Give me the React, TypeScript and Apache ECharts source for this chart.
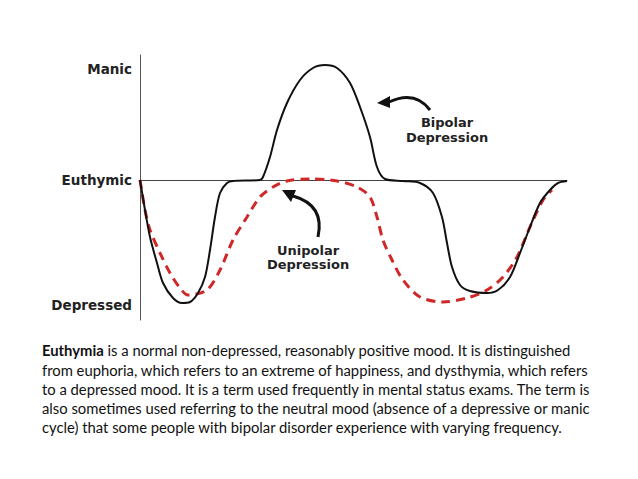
import React, { useEffect, useRef } from "react";
import * as echarts from "echarts";

// x: time (arbitrary units), y: mood (Euthymic = 0)
const bipolarX = [0, 5, 10, 17, 23, 33, 42, 50, 58, 65, 70, 75, 80, 87, 93, 120, 123, 130, 137, 147, 160, 173, 185, 197, 210, 220, 230, 237, 245, 263, 280, 293, 302, 307, 312, 320, 330, 347, 358, 370, 380, 390, 400, 410, 418, 427];
const bipolarY = [0, -30, -57, -83, -103, -118, -123, -122, -113, -97, -70, -37, -13, -3, -1, 0, 3, 23, 50, 77, 100, 112, 115, 112, 97, 73, 43, 13, 1, -1, -3, -13, -37, -63, -87, -105, -111, -113, -110, -97, -73, -47, -23, -10, -3, -1];

const unipolarX = [0, 5, 10, 20, 30, 40, 48, 67, 80, 93, 107, 120, 133, 147, 170, 197, 217, 230, 237, 243, 252, 263, 280, 303, 327, 347, 363, 377, 390, 403, 412];
const unipolarY = [0, -30, -50, -73, -93, -108, -115, -110, -90, -60, -37, -17, -7, -1, 1, -1, -7, -17, -37, -60, -80, -100, -117, -122, -118, -110, -97, -77, -47, -20, -10];

const moodLevels = [111, 0, -125];
const moodNames = ["Manic", "Euthymic", "Depressed"];

const paragraph = [
  "{b|Euthymia} is a normal non-depressed, reasonably positive mood. It is distinguished",
  "from euphoria, which refers to an extreme of happiness, and dysthymia, which refers",
  "to a depressed mood. It is a term used frequently in mental status exams. The term is",
  "also sometimes used referring to the neutral mood (absence of a depressive or manic",
  "cycle) that some people with bipolar disorder experience with varying frequency.",
];

const labelFont = "DejaVu Sans";

export default function App() {
  const ref = useRef<HTMLDivElement>(null);
  useEffect(() => {
    if (!ref.current) return;
    const chart = echarts.init(ref.current, null, { renderer: "svg" });
    const pair = (xs: number[], ys: number[]) => xs.map((x, i) => [x, ys[i]]);
    const lineYs = [350, 370, 389, 408, 427];
    const arrowText = (text: string, x: number, y: number) => ({
      type: "text",
      x,
      y,
      style: { text, fill: "#222", fontFamily: labelFont, fontWeight: "bold", fontSize: 13, align: "center", verticalAlign: "middle" },
    });
    chart.setOption({
      animation: false,
      backgroundColor: "#ffffff",
      grid: { left: 140, right: 71, top: 55, bottom: 159 },
      xAxis: {
        type: "value",
        min: 0,
        max: 427,
        axisLine: { show: true, onZero: true, lineStyle: { color: "#444", width: 1 } },
        axisTick: { show: false },
        axisLabel: { show: false },
        splitLine: { show: false },
      },
      yAxis: {
        type: "value",
        min: -140,
        max: 125,
        axisLine: { show: true, lineStyle: { color: "#555", width: 1 } },
        axisTick: { show: false },
        splitLine: { show: false },
        axisLabel: {
          customValues: moodLevels,
          margin: 8,
          color: "#222",
          fontFamily: labelFont,
          fontWeight: "bold",
          fontSize: 13.5,
          formatter: (v: number) => {
            const i = moodLevels.indexOf(v);
            return i >= 0 ? moodNames[i] : "";
          },
        },
      },
      series: [
        {
          name: "Bipolar",
          type: "line",
          data: pair(bipolarX, bipolarY),
          smooth: 0.3,
          showSymbol: false,
          lineStyle: { color: "#111", width: 2 },
          z: 3,
        },
        {
          name: "Unipolar",
          type: "line",
          data: pair(unipolarX, unipolarY),
          smooth: 0.3,
          showSymbol: false,
          lineStyle: { color: "#d02828", width: 3, type: [9, 6] },
          z: 2,
        },
      ],
      graphic: [
        // Bipolar arrow
        {
          type: "bezierCurve",
          shape: { x1: 430, y1: 110, x2: 389, y2: 102, cpx1: 415, cpy1: 90 },
          style: { stroke: "#111", lineWidth: 3, fill: null },
        },
        {
          type: "polygon",
          shape: { points: [[377, 103], [390, 96], [390, 108]] },
          style: { fill: "#111" },
        },
        arrowText("Bipolar", 447, 122),
        arrowText("Depression", 447, 137),
        // Unipolar arrow
        {
          type: "bezierCurve",
          shape: { x1: 318, y1: 237, x2: 293, y2: 196, cpx1: 325, cpy1: 205 },
          style: { stroke: "#111", lineWidth: 3, fill: null },
        },
        {
          type: "polygon",
          shape: { points: [[282, 190], [296, 190], [291, 202]] },
          style: { fill: "#111" },
        },
        arrowText("Unipolar", 308, 250),
        arrowText("Depression", 308, 264),
        ...paragraph.map((line, i) => ({
          type: "text",
          x: 42,
          y: lineYs[i],
          style: {
            text: line,
            fill: "#111",
            fontFamily: "Lato",
            fontSize: 14.8,
            verticalAlign: "middle",
            rich: { b: { fontWeight: "bold", fontFamily: "Lato", fontSize: 14.8, fill: "#111" } },
          },
        })),
      ],
    });
    return () => chart.dispose();
  }, []);
  return <div ref={ref} style={{ position: "fixed", left: 0, top: 0, width: 638, height: 479, background: "#fff" }} />;
}
